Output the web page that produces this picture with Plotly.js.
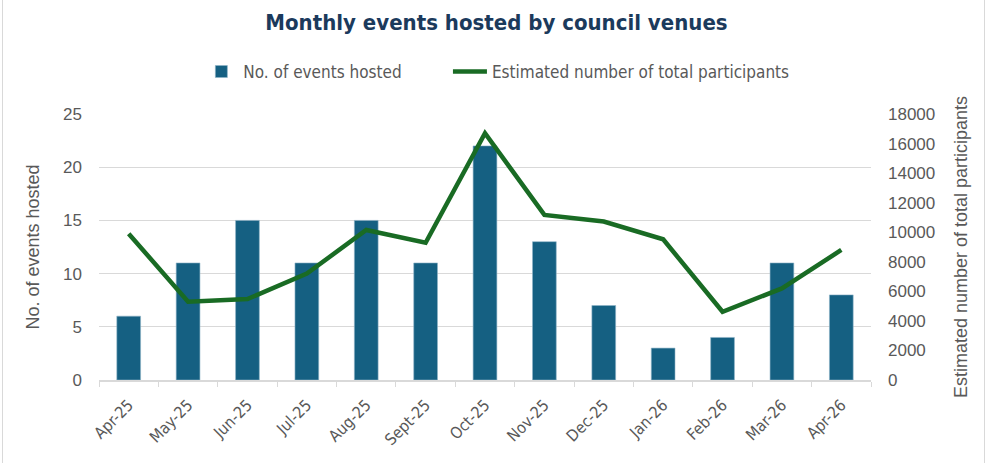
<!DOCTYPE html>
<html>
<head>
<meta charset="utf-8">
<script src="https://cdn.plot.ly/plotly-3.0.1.min.js"></script>
<style>
html,body{margin:0;padding:0;background:#fff;}
#wrap{position:relative;width:987px;height:463px;overflow:hidden;}
#chart{width:987px;height:463px;}
#frame{position:absolute;left:2px;top:-2px;width:981px;height:480px;border:1px solid #d9d9d9;pointer-events:none;}
.gtitle, .legendtext, .xtick text { font-stretch: condensed !important; }
</style>
</head>
<body>
<div id="wrap"><div id="chart"></div><div id="frame"></div></div>
<script>
const months = ["Apr-25","May-25","Jun-25","Jul-25","Aug-25","Sept-25","Oct-25","Nov-25","Dec-25","Jan-26","Feb-26","Mar-26","Apr-26"];
const eventsHosted = [6, 11, 15, 11, 15, 11, 22, 13, 7, 3, 4, 11, 8];
const participants = [9900, 5300, 5480, 7200, 10150, 9290, 16700, 11170, 10720, 9520, 4620, 6200, 8800];

const narrow = '"DejaVu Sans Condensed", "DejaVu Sans", sans-serif';
const sans = '"Liberation Sans", Arial, sans-serif';
const grey = '#595959';

const traces = [
  {
    type: 'bar', x: months, y: eventsHosted, name: 'No. of events hosted',
    marker: {color: '#156082', line: {color: '#8fb3c7', width: 0.6}},
    yaxis: 'y', legend: 'legend'
  },
  {
    type: 'scatter', mode: 'lines', x: months, y: participants,
    name: 'Estimated number of total participants',
    line: {color: '#196b24', width: 4.5},
    yaxis: 'y2', legend: 'legend2'
  }
];

const legendBase = {
  orientation: 'h', y: 1.158, yanchor: 'middle', xanchor: 'left',
  font: {family: narrow, size: 17, color: grey},
  itemwidth: 34, bgcolor: 'rgba(0,0,0,0)'
};

const layout = {
  width: 987, height: 463,
  margin: {l: 99, r: 116, t: 114, b: 83},
  paper_bgcolor: '#fff', plot_bgcolor: '#fff',
  bargap: 0.6,
  title: {
    text: '<b>Monthly events hosted by council venues</b>',
    font: {family: narrow, size: 22, color: '#1b3a5c'},
    x: 0.503, xanchor: 'center', y: 0.952, yanchor: 'middle'
  },
  showlegend: true,
  legend: Object.assign({}, legendBase, {x: 0.13}),
  legend2: Object.assign({}, legendBase, {x: 0.452}),
  xaxis: {
    type: 'category',
    tickangle: -45,
    tickfont: {family: narrow, size: 16, color: grey},
    showline: true, linecolor: '#d9d9d9', linewidth: 1.5,
    ticks: 'outside', ticklen: 5, tickcolor: '#d9d9d9', tickson: 'boundaries',
    ticklabelstandoff: 8,
    showgrid: false, fixedrange: true
  },
  yaxis: {
    range: [0, 25], dtick: 5,
    showgrid: true, gridcolor: '#d9d9d9', gridwidth: 1,
    zeroline: false, showline: false,
    tickfont: {family: sans, size: 17, color: grey},
    ticks: '', ticklabelstandoff: 16,
    title: {text: 'No. of events hosted', font: {family: sans, size: 18, color: grey}, standoff: 18}
  },
  yaxis2: {
    range: [0, 18000], dtick: 2000, overlaying: 'y', side: 'right',
    tickformat: 'd',
    showgrid: false, zeroline: false, showline: false,
    tickfont: {family: sans, size: 17, color: grey},
    ticks: '', ticklabelstandoff: 16,
    title: {text: 'Estimated number of total participants', font: {family: sans, size: 18, color: grey}, standoff: 20}
  }
};

Plotly.newPlot('chart', traces, layout, {displayModeBar: false, staticPlot: true});
</script>
</body>
</html>
